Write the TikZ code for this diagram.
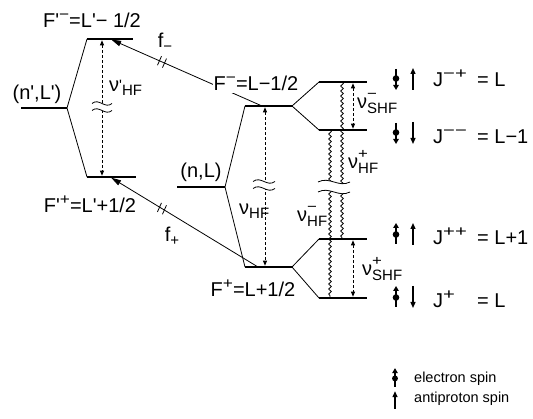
\documentclass[tikz,border=0pt]{standalone}
\usepackage{graphicx}
\usepackage{fontspec}
\setmainfont{Liberation Sans}
\usetikzlibrary{arrows.meta,decorations.pathmorphing,calc}
\newcommand\mainfs{\fontsize{20}{24}\selectfont}
\newcommand\smfs{\fontsize{15}{15}\selectfont}
\newcommand\ssfs{\fontsize{14}{14}\selectfont}
\newcommand\legfs{\fontsize{14.5}{17}\selectfont}
\newcommand\sps[1]{\raisebox{8pt}{\scalebox{1.15}[1]{\smfs #1}}}
\newcommand\spsw[1]{\raisebox{8pt}{\scalebox{1.35}[1]{\smfs #1}}}
\newcommand\sbs[1]{\raisebox{-4pt}{\smfs #1}}
\newcommand\nul[2]{ν\rlap{\raisebox{10pt}{\scalebox{1.2}[1]{\ssfs #1}}}\raisebox{-5pt}{\smfs #2}}
\newcommand\pq{\textquotesingle}
% break mark: x, y, half width, half gap
\newcommand\brkmark[4]{%
  \fill[white] ({#1-#3},{#2-#4}) .. controls ({#1-0.3*#3},{#2-#4-6}) and ({#1+0.3*#3},{#2-#4+6}) .. ({#1+#3},{#2-#4})
     -- ({#1+#3},{#2+#4}) .. controls ({#1+0.3*#3},{#2+#4+6}) and ({#1-0.3*#3},{#2+#4-6}) .. ({#1-#3},{#2+#4}) -- cycle;
  \draw[line width=0.8pt] ({#1-#3},{#2-#4}) .. controls ({#1-0.3*#3},{#2-#4-6}) and ({#1+0.3*#3},{#2-#4+6}) .. ({#1+#3},{#2-#4});
  \draw[line width=0.8pt] ({#1-#3},{#2+#4}) .. controls ({#1-0.3*#3},{#2+#4-6}) and ({#1+0.3*#3},{#2+#4+6}) .. ({#1+#3},{#2+#4});
}
\tikzset{
  espin/.pic={\draw[line width=1.4pt,-{Triangle[length=5pt,width=5.5pt]}] (0,10) -- (0,-11); \fill (0,0.5) circle (3.3pt);},
  pspin/.pic={\draw[line width=1.3pt,-{Triangle[length=6pt,width=5pt]}] (0,11) -- (0,-11);},
  dslash/.pic={\draw[line width=0.8pt] (-4.5,3.3) -- (-0.5,-5.7); \draw[line width=0.8pt] (0.5,5.7) -- (4.5,-3.3);}
}
\begin{document}
\begin{tikzpicture}[x=1pt,y=-1pt,
  level/.style={line width=2.6pt},
  conn/.style={line width=0.8pt},
  dasharr/.style={line width=0.8pt, dash pattern=on 3pt off 2pt,
     {Triangle[length=5pt,width=4pt]}-{Triangle[length=5pt,width=4pt]}, shorten <=1.3pt, shorten >=1.3pt},
  farr/.style={line width=0.8pt, -{Triangle[length=10pt,width=5.5pt]}, shorten >=1.3pt},
  wav/.style={line width=0.8pt, decorate, decoration={snake, amplitude=1.3pt, segment length=5pt}},
  lab/.style={font=\mainfs, inner sep=0pt, anchor=base},
  every node/.style={inner sep=0pt}]
\useasboundingbox (0,0) rectangle (533,419);

% level end points
\coordinate (nLpL) at (21,108);  \coordinate (nLpR) at (67,108);
\coordinate (FpmL) at (87,39);   \coordinate (FpmR) at (133,39);
\coordinate (FppL) at (87,177);  \coordinate (FppR) at (136,177);
\coordinate (nLL) at (177,187);  \coordinate (nLR) at (225,187);
\coordinate (FmL) at (245,106);  \coordinate (FmR) at (292,106);
\coordinate (FpL) at (245,267);  \coordinate (FpR) at (292,267);
\coordinate (JmpL) at (319,82);  \coordinate (JmpR) at (367,82);
\coordinate (JmmL) at (319,130); \coordinate (JmmR) at (367,130);
\coordinate (JppL) at (319,239); \coordinate (JppR) at (367,239);
\coordinate (JpL) at (319,298);  \coordinate (JpR) at (367,298);

% arrow end points
\coordinate (hfpT) at (102,39);  \coordinate (hfpB) at (102,177);
\coordinate (hfT) at (265,106);  \coordinate (hfB) at (265,267);
\coordinate (shmT) at (353,82);  \coordinate (shmB) at (353,130);
\coordinate (shpT) at (353,239); \coordinate (shpB) at (353,298);
\coordinate (wpT) at (342,82);   \coordinate (wpB) at (342,239);
\coordinate (wmT) at (330,130);  \coordinate (wmB) at (330,298);
\coordinate (fmS) at (262,106);  \coordinate (fmE) at (110,39);
\coordinate (fpS) at (258,267);  \coordinate (fpE) at (110,177);

% connectors between levels
\draw[conn] (nLpR) -- (FpmL);
\draw[conn] (nLpR) -- (FppL);
\draw[conn] (nLR) -- (FmL);
\draw[conn] (nLR) -- (FpL);
\draw[conn] (FmR) -- (JmpL);
\draw[conn] (FmR) -- (JmmL);
\draw[conn] (FpR) -- (JppL);
\draw[conn] (FpR) -- (JpL);

% wavy transitions
\draw[wav] (wpT) -- (wpB);
\draw[wav] (wmT) -- (wmB);

% dashed splittings
\draw[dasharr] (hfpT) -- (hfpB);
\draw[dasharr] (hfT) -- (hfB);
\draw[dasharr] (shmT) -- (shmB);
\draw[dasharr] (shpT) -- (shpB);

% transitions f-, f+
\draw[farr] (fmS) -- (fmE);
\draw[farr] (fpS) -- (fpE);
\pic at ($(fmS)!0.658!(fmE)$) {dslash};
\pic at ($(fpS)!0.649!(fpE)$) {dslash};

% break marks
\brkmark{102}{107}{10}{3.5}
\brkmark{264}{185}{11}{3.5}
\brkmark{334}{187}{16}{5}

% levels
\draw[level] (nLpL) -- (nLpR);
\draw[level] (FpmL) -- (FpmR);
\draw[level] (FppL) -- (FppR);
\draw[level] (nLL) -- (nLR);
\draw[level] (FmL) -- (FmR);
\draw[level] (FpL) -- (FpR);
\draw[level] (JmpL) -- (JmpR);
\draw[level] (JmmL) -- (JmmR);
\draw[level] (JppL) -- (JppR);
\draw[level] (JpL) -- (JpR);

% labels
\node[lab] (Fpmlab) at (92,28) {F\pq\sps{−}=L\pq− 1/2};
\node[lab] (Fpplab) at (90,213) {F\pq\sps{+}=L\pq+1/2};
\node[lab] (nLplab) at (37,100) {(n\pq,L\pq)};
\node[lab] (nLlab) at (201,178) {(n,L)};
\node[lab, fill=white, inner xsep=1pt, inner ysep=2pt] (Fmlab) at (256,91) {F\sps{−}=L−1/2};
\node[lab] (Fplab) at (253,297) {F\sps{+}=L+1/2};
\node[lab] (fmlab) at (165,48) {f\sbs{−}};
\node[lab] (fplab) at (172,242) {f\sbs{+}};

\node[lab, anchor=base west] (nuhfp) at (109,92) {ν\raisebox{1pt}{\smfs\pq}\raisebox{-4pt}{\smfs HF}};
\node[lab, anchor=base west] (nuhf) at (239,215) {ν\sbs{HF}};
\node[lab, anchor=base west] (nuhfm) at (297,222) {\nul{−}{HF}};
\node[lab, anchor=base west] (nuhfpl) at (348,169) {\nul{+}{HF}};
\node[lab, anchor=base west] (nushfm) at (357,109) {\nul{−}{SHF}};
\node[lab, anchor=base west] (nushfp) at (362,276) {\nul{+}{SHF}};

\node[lab, anchor=base west] (Jmplab) at (433,87) {\makebox[44pt][l]{J\spsw{−+}}= L};
\node[lab, anchor=base west] (Jmmlab) at (433,144) {\makebox[44pt][l]{J\spsw{−−}}= L−1};
\node[lab, anchor=base west] (Jpplab) at (433,245) {\makebox[44pt][l]{J\spsw{++}}= L+1};
\node[lab, anchor=base west] (Jplab) at (433,308) {\makebox[44pt][l]{J\spsw{+}}= L};

% spins
\pic[rotate=180] at (396,79) {espin};  \pic at (413,79) {pspin};
\pic[rotate=180] at (396,133) {espin}; \pic[rotate=180] at (413,133) {pspin};
\pic at (396,234) {espin};             \pic at (413,234) {pspin};
\pic at (396,297) {espin};             \pic[rotate=180] at (413,297) {pspin};

% legend
\pic[scale=0.9] at (395,378) {espin};
\pic[scale=0.8] at (395,400) {pspin};
\node[font=\legfs, anchor=base west] (legE) at (414,383) {electron spin};
\node[font=\legfs, anchor=base west] (legP) at (414,403) {antiproton spin};
\end{tikzpicture}
\end{document}
